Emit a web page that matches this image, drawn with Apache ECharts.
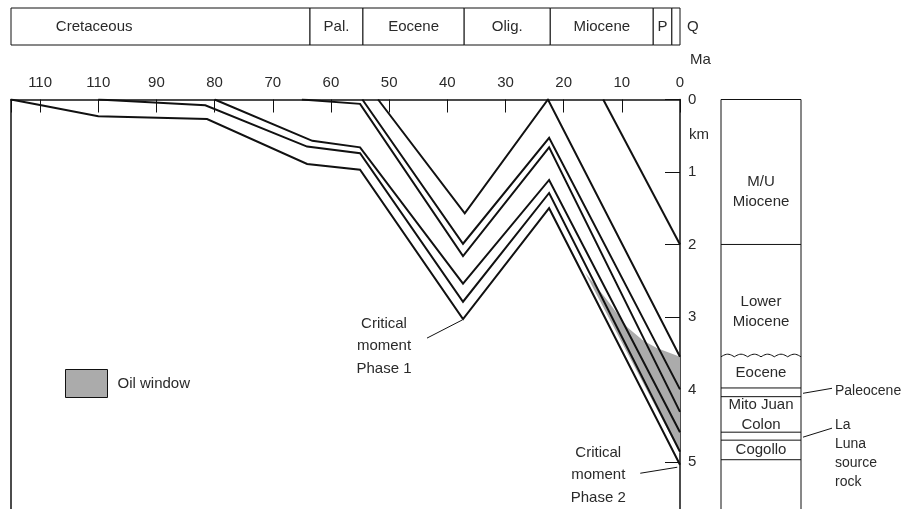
<!DOCTYPE html>
<html>
<head>
<meta charset="utf-8">
<script src="https://cdn.jsdelivr.net/npm/echarts@6/dist/echarts.min.js"></script>
<style>
  html, body { margin: 0; padding: 0; background: #fff; }
  #burial { width: 912px; height: 509px; }
</style>
</head>
<body>
<div id="burial"></div>
<script>
// tick labels on the time axis, as printed (value 100 is labelled "110" in the figure)
var timeTickLabels = ['0', '10', '20', '30', '40', '50', '60', '70', '80', '90', '110', '110'];

// geologic time scale bar
var periodNames = ['Cretaceous', 'Pal.', 'Eocene', 'Olig.', 'Miocene', 'P', 'Q'];
var periodFrom = [115, 63.6, 54.5, 37.1, 22.3, 4.6, 1.4];
var periodTo = [63.6, 54.5, 37.1, 22.3, 4.6, 1.4, 0];

// burial curves, [age Ma, depth km]
var horizon1 = [[115, 0], [109.8, 0.08], [100, 0.23], [81.3, 0.27], [64.1, 0.89], [55, 0.97], [37.3, 3.03], [22.5, 1.50], [0, 5.04]];
var horizon2 = [[100, 0], [81.6, 0.08], [64.1, 0.65], [55, 0.74], [37.3, 2.79], [22.5, 1.29], [0, 4.86]];
var horizon3 = [[80, 0], [63.2, 0.57], [55, 0.66], [37.3, 2.54], [22.5, 1.11], [0, 4.59]];
var horizon4 = [[65, 0], [55, 0.06], [37.3, 2.16], [22.5, 0.66], [0, 4.31]];
var horizon5 = [[54.6, 0], [37.3, 1.99], [22.5, 0.53], [0, 4.0]];
var horizon6 = [[51.9, 0], [37.0, 1.57], [22.7, 0], [0, 3.55]];
var horizon7 = [[13.2, 0], [0, 2.0]];

// oil window outline [age Ma, depth km]
var oilWindow = [[16.3, 2.39], [12.5, 2.77], [9.1, 3.14], [6.4, 3.32], [4.0, 3.43], [0, 3.55], [0, 4.88]];

// critical moments [age Ma, depth km]
var criticalPoints = [[37.3, 3.03], [0.3, 5.06]];
var criticalLabels = ['Critical\nmoment\nPhase 1', 'Critical\nmoment\nPhase 2'];

// present-day stratigraphic column (depth km)
var unitNames = ['M/U\nMiocene', 'Lower\nMiocene', 'Eocene', '', 'Mito Juan\nColon', '', 'Cogollo'];
var unitTop = [0, 2.0, 3.55, 3.98, 4.10, 4.59, 4.70];
var unitBase = [2.0, 3.55, 3.98, 4.10, 4.59, 4.70, 4.97];
var unitWavyBase = [false, true, false, false, false, false, false];
var unitSideLabels = ['', '', '', 'Paleocene', '', 'La\nLuna\nsource\nrock', ''];

var depthMax = 5.65;
var FONT = '"Liberation Sans", Arial, Helvetica, sans-serif';
var INK = '#111';
var TXT = '#2a2a2a';
var OIL = '#ababab';

var chart = echarts.init(document.getElementById('burial'));

function lineSeries(data) {
  return {
    type: 'line', data: data, xAxisIndex: 0, yAxisIndex: 0,
    symbol: 'none', silent: true, z: 3,
    lineStyle: { color: INK, width: 2, join: 'miter' }
  };
}

// label shifts (px) for the column units whose text sits below centre
var unitLabelShift = { 0: 20, 1: 11 };
// text offsets (px) of the critical moment notes from their point
var criticalLayout = [{ dx: -79, dy: 27, lx: -36, ly: 19 }, { dx: -80, dy: 9, lx: -38, ly: 7 }];

var option = {
  animation: false,
  backgroundColor: '#fff',
  textStyle: { fontFamily: FONT },
  legend: {
    data: ['Oil window'],
    left: 65, top: 369,
    padding: 0,
    itemWidth: 42, itemHeight: 28,
    icon: 'rect',
    selectedMode: false,
    itemStyle: { color: OIL, borderColor: INK, borderWidth: 1 },
    textStyle: { fontSize: 15, color: TXT, fontFamily: FONT, padding: [0, 0, 0, 5] }
  },
  grid: [
    { left: 11, right: 232, top: 99.5, bottom: 0 },
    { left: 11, right: 232, top: 8, height: 37 },
    { left: 721, width: 80, top: 99.5, bottom: 0 }
  ],
  xAxis: [
    {
      gridIndex: 0, type: 'value', min: 0, max: 115, inverse: true, position: 'top', interval: 10,
      axisLine: { show: true, lineStyle: { color: INK, width: 1.5 } },
      axisTick: { show: true, inside: true, length: 13, lineStyle: { color: INK, width: 1 } },
      axisLabel: {
        margin: 9, fontSize: 15, color: TXT, fontFamily: FONT,
        formatter: function (v) {
          return v % 10 === 0 ? timeTickLabels[v / 10] : '';
        }
      },
      splitLine: { show: false }
    },
    { gridIndex: 1, type: 'value', min: 0, max: 115, inverse: true, show: false },
    { gridIndex: 2, type: 'value', min: 0, max: 1, show: false }
  ],
  yAxis: [
    {
      gridIndex: 0, type: 'value', min: 0, max: depthMax, inverse: true, position: 'right', interval: 1,
      axisLine: { show: true, lineStyle: { color: INK, width: 1.5 } },
      axisTick: { show: true, inside: true, length: 15, lineStyle: { color: INK, width: 1 } },
      axisLabel: {
        margin: 8, fontSize: 15, color: TXT, fontFamily: FONT,
        formatter: function (v) { return Number.isInteger(v) ? String(v) : ''; }
      },
      splitLine: { show: false }
    },
    {
      gridIndex: 0, type: 'value', min: 0, max: depthMax, inverse: true, position: 'left',
      axisLine: { show: true, lineStyle: { color: INK, width: 1.5 } },
      axisTick: { show: false }, axisLabel: { show: false }, splitLine: { show: false }
    },
    { gridIndex: 1, type: 'value', min: 0, max: 1, show: false },
    { gridIndex: 2, type: 'value', min: 0, max: depthMax, inverse: true, show: false }
  ],
  graphic: [
    { type: 'text', left: 690, top: 52, style: { text: 'Ma', fontSize: 15, fill: TXT, fontFamily: FONT } },
    { type: 'text', left: 689, top: 127, style: { text: 'km', fontSize: 15, fill: TXT, fontFamily: FONT } }
  ],
  series: [
    {
      name: 'Oil window',
      type: 'custom', xAxisIndex: 0, yAxisIndex: 0, silent: true, z: 1,
      itemStyle: { color: OIL },
      data: [[0, 0]],
      renderItem: function (params, api) {
        return {
          type: 'polygon',
          shape: { points: oilWindow.map(function (p) { return api.coord(p); }) },
          style: { fill: OIL, stroke: null }
        };
      }
    },
    lineSeries(horizon1),
    lineSeries(horizon2),
    lineSeries(horizon3),
    lineSeries(horizon4),
    lineSeries(horizon5),
    lineSeries(horizon6),
    lineSeries(horizon7),
    {
      // time scale bar
      type: 'custom', xAxisIndex: 1, yAxisIndex: 2, silent: true,
      data: periodNames.map(function (n, i) { return [periodFrom[i], periodTo[i]]; }),
      renderItem: function (params, api) {
        var i = params.dataIndex;
        var a = api.coord([api.value(0), 1]);
        var b = api.coord([api.value(1), 0]);
        var w = b[0] - a[0];
        var tx = a[0] + w / 2, align = 'center';
        if (w < 12) { tx = b[0] + 7; align = 'left'; }
        if (i === 0) { tx = api.coord([100.7, 0])[0]; }
        return {
          type: 'group',
          children: [
            { type: 'rect', shape: { x: a[0], y: a[1], width: w, height: b[1] - a[1] },
              style: { fill: '#fff', stroke: INK, lineWidth: 1 } },
            { type: 'text', x: tx, y: (a[1] + b[1]) / 2,
              style: { text: periodNames[i], fontSize: 15, fill: TXT, fontFamily: FONT,
                       align: align, verticalAlign: 'middle' } }
          ]
        };
      }
    },
    {
      // stratigraphic column
      type: 'custom', xAxisIndex: 2, yAxisIndex: 3, silent: true,
      data: unitNames.map(function (n, i) { return [unitTop[i], unitBase[i]]; }),
      renderItem: function (params, api) {
        var i = params.dataIndex;
        var top = api.coord([0, api.value(0)]);
        var base = api.coord([1, api.value(1)]);
        var x0 = top[0], x1 = base[0], y0 = top[1], y1 = base[1];
        var kids = [];
        if (i === 0) {
          var end = api.coord([1, depthMax]);
          kids.push({ type: 'rect', shape: { x: x0, y: y0, width: x1 - x0, height: end[1] - y0 + 2 },
                      style: { fill: 'none', stroke: INK, lineWidth: 1 } });
        }
        if (unitWavyBase[i]) {
          var pts = [];
          for (var k = 0; k <= 60; k++) {
            var t = k / 60;
            pts.push([x0 + t * (x1 - x0), y1 - 2.6 * Math.abs(Math.sin(Math.PI * 6 * t))]);
          }
          kids.push({ type: 'polyline', shape: { points: pts }, style: { stroke: INK, lineWidth: 1, fill: null } });
        } else {
          kids.push({ type: 'line', shape: { x1: x0, y1: y1, x2: x1, y2: y1 }, style: { stroke: INK, lineWidth: 1 } });
        }
        if (unitNames[i]) {
          kids.push({ type: 'text', x: (x0 + x1) / 2, y: (y0 + y1) / 2 + (unitLabelShift[i] || 0),
                      style: { text: unitNames[i], fontSize: 15, lineHeight: 20, fill: TXT, fontFamily: FONT,
                               align: 'center', verticalAlign: 'middle' } });
        }
        if (unitSideLabels[i]) {
          var ym = (y0 + y1) / 2;
          var lines = unitSideLabels[i].split('\n').length;
          var ty = lines > 1 ? ym - 21 : ym - 1;
          var ly = lines > 1 ? ym - 8 : ym - 4;
          kids.push({ type: 'line', shape: { x1: x1 + 2, y1: ym + 1, x2: x1 + 31, y2: ly },
                      style: { stroke: INK, lineWidth: 1 } });
          kids.push({ type: 'text', x: x1 + 34, y: ty,
                      style: { text: unitSideLabels[i], fontSize: 14, lineHeight: 19, fill: TXT, fontFamily: FONT,
                               align: 'left', verticalAlign: lines > 1 ? 'top' : 'middle' } });
        }
        return { type: 'group', children: kids };
      }
    },
    {
      // critical moment notes
      type: 'custom', xAxisIndex: 0, yAxisIndex: 0, silent: true, z: 4,
      data: criticalPoints,
      renderItem: function (params, api) {
        var i = params.dataIndex;
        var p = api.coord([api.value(0), api.value(1)]);
        var L = criticalLayout[i];
        return {
          type: 'group',
          children: [
            { type: 'line', shape: { x1: p[0] + L.lx, y1: p[1] + L.ly, x2: p[0] - 1, y2: p[1] + 1 },
              style: { stroke: INK, lineWidth: 1 } },
            { type: 'text', x: p[0] + L.dx, y: p[1] + L.dy,
              style: { text: criticalLabels[i], fontSize: 15, lineHeight: 22.5, fill: TXT, fontFamily: FONT,
                       align: 'center', verticalAlign: 'middle' } }
          ]
        };
      }
    }
  ]
};

chart.setOption(option);
</script>
</body>
</html>
